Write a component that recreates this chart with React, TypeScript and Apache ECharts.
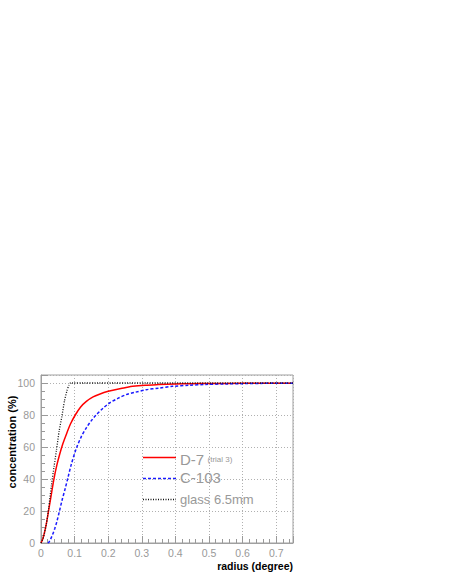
import React, { useEffect, useRef } from "react";
import * as echarts from "echarts";

const d7X = [0, 0.006, 0.015, 0.024, 0.032, 0.039, 0.047, 0.055, 0.065, 0.075, 0.088, 0.102, 0.118, 0.135, 0.155, 0.174, 0.2, 0.224, 0.25, 0.273, 0.31, 0.35, 0.4, 0.45, 0.5, 0.6, 0.75];
const d7Y = [0, 3, 11, 22, 32, 40.6, 48.5, 55, 62, 67.7, 74.5, 80, 85, 88.5, 91.3, 93, 94.8, 96, 97, 97.9, 98.6, 99, 99.4, 99.6, 99.7, 99.8, 99.9];

const c103X = [0.02, 0.024, 0.032, 0.041, 0.048, 0.055, 0.063, 0.072, 0.081, 0.09, 0.105, 0.12, 0.135, 0.15, 0.164, 0.185, 0.204, 0.23, 0.253, 0.28, 0.313, 0.35, 0.392, 0.44, 0.49, 0.55, 0.6, 0.67, 0.75];
const c103Y = [0, 0.6, 4, 9, 14, 20, 27, 34, 41.5, 49, 59, 66.5, 72, 76.5, 80, 84.3, 87.5, 90.5, 92.7, 94.2, 95.8, 96.8, 97.9, 98.6, 99.1, 99.4, 99.6, 99.8, 99.9];

const glassX = [0, 0.008, 0.016, 0.023, 0.031, 0.039, 0.046, 0.054, 0.062, 0.07, 0.077, 0.083, 0.088, 0.75];
const glassY = [0, 4, 12, 22, 36, 48, 58, 70, 79, 89, 95, 98.6, 100, 100];

const xTicks = [0, 0.1, 0.2, 0.3, 0.4, 0.5, 0.6, 0.7];
const yTicks = [0, 20, 40, 60, 80, 100];

const legendNames = ["D-7", "C-103", "glass 6.5mm"];
const legendSub = "(trial 3)";

const pairs = (xs: number[], ys: number[]) => xs.map((x, i) => [x, ys[i]]);

export default function App() {
  const ref = useRef<HTMLDivElement>(null);
  useEffect(() => {
    if (!ref.current) return;
    const chart = echarts.init(ref.current, null, { renderer: "svg" });
    const gray = "#999";
    const labelFont = { color: "#999", fontSize: 10.5, fontFamily: "Liberation Sans, Arial, sans-serif" };
    chart.setOption({
      animation: false,
      grid: {
        left: 41,
        right: 159,
        top: 375,
        bottom: 42,
        show: true,
        borderColor: "#a0a0a0",
        borderWidth: 1,
      },
      xAxis: {
        type: "value",
        min: 0,
        max: 0.75,
        interval: 0.1,
        axisLine: { show: true, lineStyle: { color: "#a0a0a0" } },
        axisTick: { show: true, inside: true, length: 7, lineStyle: { color: gray } },
        minorTick: { show: true, splitNumber: 5, length: 4, lineStyle: { color: gray } },
        splitLine: { show: true, lineStyle: { color: "#b0b0b0", type: [1, 2] } },
        axisLabel: {
          ...labelFont,
          margin: 4,
          showMaxLabel: false,
          formatter: (v: number) => (xTicks.some((t) => Math.abs(t - v) < 1e-6) ? String(Math.round(v * 10) / 10) : ""),
        },
      },
      yAxis: {
        type: "value",
        min: 0,
        max: 105,
        interval: 20,
        axisLine: { show: true, lineStyle: { color: "#a0a0a0" } },
        axisTick: { show: true, inside: true, length: 7, lineStyle: { color: gray } },
        minorTick: { show: true, splitNumber: 4, length: 4, lineStyle: { color: gray } },
        splitLine: { show: true, lineStyle: { color: "#b0b0b0", type: [1, 2] } },
        axisLabel: {
          ...labelFont,
          margin: 6,
          showMaxLabel: false,
          formatter: (v: number) => (yTicks.includes(v) ? String(v) : ""),
        },
      },
      series: [
        {
          name: legendNames[0],
          type: "line",
          data: pairs(d7X, d7Y),
          showSymbol: false,
          smooth: 0.3,
          lineStyle: { color: "#ff0000", width: 1.5 },
        },
        {
          name: legendNames[1],
          type: "line",
          data: pairs(c103X, c103Y),
          showSymbol: false,
          smooth: 0.3,
          lineStyle: { color: "#1a1aff", width: 1.5, type: [3, 2] },
        },
        {
          name: legendNames[2],
          type: "line",
          data: pairs(glassX, glassY),
          showSymbol: false,
          smooth: 0.2,
          lineStyle: { color: "#111", width: 1.3, type: [1, 1.5] },
        },
      ],
      graphic: [
        {
          type: "text",
          x: 12,
          y: 442,
          rotation: Math.PI / 2,
          style: {
            text: "concentration (%)",
            fill: "#000",
            font: "bold 11px Liberation Sans, Arial, sans-serif",
            align: "center",
            verticalAlign: "middle",
          },
        },
        {
          type: "text",
          x: 293,
          y: 566,
          style: {
            text: "radius (degree)",
            fill: "#000",
            font: "bold 10.5px Liberation Sans, Arial, sans-serif",
            align: "right",
            verticalAlign: "middle",
          },
        },
        { type: "line", shape: { x1: 143, y1: 457.5, x2: 176, y2: 457.5 }, style: { stroke: "#ff0000", lineWidth: 1.5 } },
        { type: "line", shape: { x1: 143, y1: 478.5, x2: 176, y2: 478.5 }, style: { stroke: "#1a1aff", lineWidth: 1.5, lineDash: [3, 2] } },
        { type: "line", shape: { x1: 143, y1: 499.5, x2: 176, y2: 499.5 }, style: { stroke: "#111", lineWidth: 1.3, lineDash: [1, 1.5] } },
        {
          type: "text",
          x: 180,
          y: 459,
          style: {
            text: "{a|" + legendNames[0] + "} {b|" + legendSub + "}",
            rich: {
              a: { fontSize: 15, fill: "#999", fontFamily: "Liberation Sans, Arial, sans-serif" },
              b: { fontSize: 8, fill: "#999", fontFamily: "Liberation Sans, Arial, sans-serif" },
            },
            verticalAlign: "middle",
          },
        },
        {
          type: "text",
          x: 180,
          y: 477,
          style: { text: legendNames[1], fill: "#999", font: "15px Liberation Sans, Arial, sans-serif", verticalAlign: "middle" },
        },
        {
          type: "text",
          x: 180,
          y: 499,
          style: { text: legendNames[2], fill: "#999", font: "13px Liberation Sans, Arial, sans-serif", verticalAlign: "middle" },
        },
      ],
    });
    return () => chart.dispose();
  }, []);
  return <div ref={ref} style={{ position: "fixed", left: 0, top: 0, width: 452, height: 585, background: "#fff" }} />;
}
